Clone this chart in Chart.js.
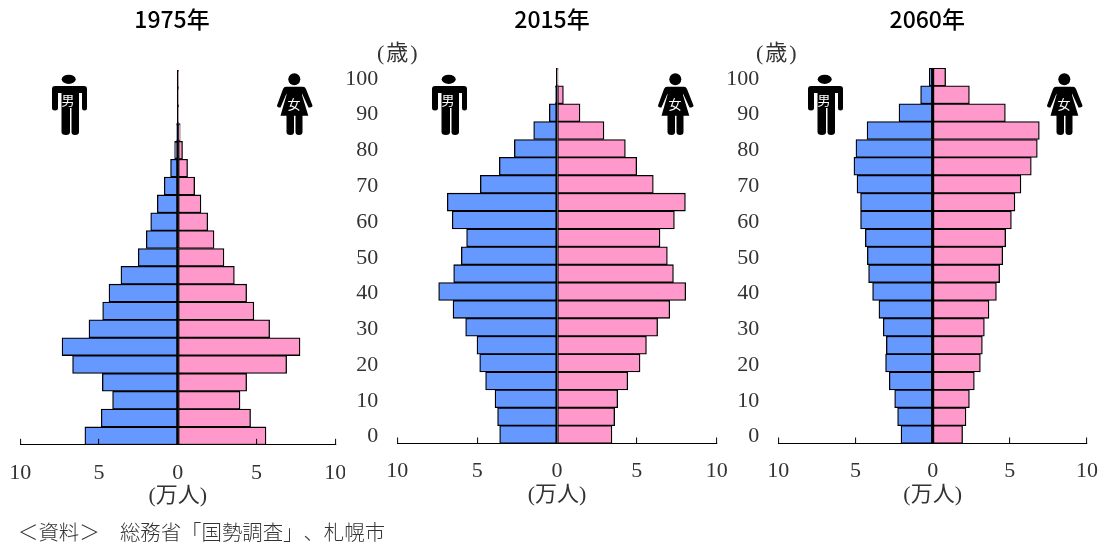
<!DOCTYPE html>
<html lang="ja">
<head>
<meta charset="utf-8">
<script src="https://cdn.jsdelivr.net/npm/chart.js@4"></script>
<style>
html,body{margin:0;padding:0;background:#fff;overflow:hidden;width:1106px;height:545px}
.c{position:absolute;top:0;height:545px}
.c canvas{display:block}
.t{position:absolute;color:#333;font-family:"Liberation Serif","Noto Sans CJK JP",serif;white-space:pre;text-spacing-trim:space-all}
svg.p{position:absolute;top:74px;width:36px;height:62px;overflow:visible}
svg.p text{font-family:"Noto Sans CJK JP",sans-serif;font-size:13px;fill:#fff;text-anchor:middle}
</style>
</head>
<body>
<div class="c" style="left:0;width:345px"><canvas id="a"></canvas></div>
<div class="c" style="left:340px;width:395px"><canvas id="b"></canvas></div>
<div class="c" style="left:720px;width:386px"><canvas id="d"></canvas></div>
<div class="t" style="left:377px;top:34px;font-size:22px;letter-spacing:2px">(歳)</div>
<div class="t" style="left:756px;top:34px;font-size:22px;letter-spacing:2px">(歳)</div>
<div class="t" style="left:18px;top:516px;font-size:20.4px;font-family:'Noto Sans CJK JP',sans-serif;font-weight:300">＜資料＞　総務省「国勢調査」、札幌市</div>
<svg width="0" height="0" style="position:absolute">
<defs>
<g id="man"><ellipse cx="16.7" cy="5.3" rx="7" ry="4.6"/><path d="M3 12H32Q35 12 35 15V34Q35 36.500 32.500 36.500Q30 36.500 30 34V19H27V58Q27 61 23 61Q19.500 61 19.500 58V34H18V58Q18 61 14 61Q9.500 61 9.500 58V19H6V34Q6 36.500 3 36.500Q0 36.500 0 34V15Q0 12 3 12Z"/></g>
<g id="woman"><circle cx="17.300" cy="5.300" r="6"/><path d="M9 12.800H26Q28 12.800 29 15L35.500 31.500Q35.500 33.500 31.500 33.500L25 19.500L25 21L31.300 41.800H25.500V58Q25.500 61 22 61Q18.500 61 18.500 58V41.800H17V58Q17 61 13.500 61Q9.500 61 9.500 58V41.800H3.500L9.500 21L9.500 19.500L3.500 33.500Q0 33.500 0 31.500L6 15Q7 12.800 9 12.800Z"/></g>
</defs>
</svg>
<svg class="p" style="left:52px"><use href="#man"/><text x="16" y="31">男</text></svg>
<svg class="p" style="left:277px"><use href="#woman"/><text x="17" y="35">女</text></svg>
<svg class="p" style="left:432px"><use href="#man"/><text x="16" y="31">男</text></svg>
<svg class="p" style="left:658px"><use href="#woman"/><text x="17" y="35">女</text></svg>
<svg class="p" style="left:808px"><use href="#man"/><text x="16" y="31">男</text></svg>
<svg class="p" style="left:1047px"><use href="#woman"/><text x="17" y="35">女</text></svg>
<script>
const ages = [100,95,90,85,80,75,70,65,60,55,50,45,40,35,30,25,20,15,10,5,0];
const male1975 = [0.01,0.02,0.04,0.08,0.2,0.46,0.86,1.3,1.72,2.0,2.51,3.61,4.37,4.77,5.64,7.35,6.68,4.79,4.14,4.86,5.9];
const female1975 = [0.01,0.02,0.05,0.15,0.3,0.62,1.07,1.47,1.9,2.3,2.93,3.59,4.37,4.83,5.83,7.76,6.91,4.37,3.95,4.62,5.6];
const male2015 = [0.03,0.1,0.48,1.46,2.67,3.61,4.8,6.87,6.56,5.66,5.99,6.47,7.41,6.51,5.72,5.01,4.84,4.47,3.88,3.72,3.59];
const female2015 = [0.07,0.4,1.44,2.94,4.28,4.99,6.03,8.04,7.35,6.45,6.91,7.29,8.06,7.06,6.3,5.6,5.2,4.43,3.8,3.61,3.44];
const male2060 = [0.22,0.78,2.18,4.25,4.97,5.1,4.9,4.67,4.67,4.36,4.23,4.15,3.89,3.48,3.2,3.0,3.05,2.81,2.46,2.27,2.05];
const female2060 = [0.84,2.38,4.71,6.91,6.78,6.39,5.72,5.33,5.1,4.73,4.54,4.34,4.13,3.65,3.35,3.22,3.09,2.7,2.38,2.16,1.94];
const xTicks = [-10,-5,0,5,10];
const titles = ["1975年","2015年","2060年"];
const unitLabel = "(万人)";
const MALE = "#6699FF", FEMALE = "#FF99CC", INK = "#000", TEXT = "#333";
const SERIF = '"Liberation Serif","Noto Sans CJK JP",serif';

function panel(id, w, title, male, female, L) {
  const el = document.getElementById(id);
  el.width = w; el.height = 545;
  return new Chart(el, {
    type: 'bar',
    data: {
      labels: ages,
      datasets: [
        {label:'男', data: male.map(v => -v), backgroundColor: MALE},
        {label:'女', data: female, backgroundColor: FEMALE}
      ]
    },
    options: {
      indexAxis: 'y', responsive: false, animation: false,
      devicePixelRatio: 1,
      layout: {padding: {left: L.left, right: L.right, top: 0, bottom: 545 - L.bottom - 65}},
      datasets: {bar: {barPercentage: 1, categoryPercentage: 1, borderWidth: 1.3, borderColor: INK, borderSkipped: false}},
      plugins: {
        legend: {display: false}, tooltip: {enabled: false},
        title: {display: true, text: title, color: '#000', font: {family: '"Noto Sans CJK JP",sans-serif', size: 23, weight: 500},
          padding: {top: 5, bottom: L.top - 5 - 27.6}}
      },
      scales: {
        x: {
          stacked: true, min: -10, max: 10, afterBuildTicks: s => { s.ticks = xTicks.map(v => ({value: v})); },
          afterFit: s => { s.height = 65; s.paddingLeft = 0; s.paddingRight = 0; },
          border: {display: true, color: INK, width: 1, z: 1},
          grid: {drawOnChartArea: true, color: c => (c.tick && c.tick.value === 0) ? INK : 'transparent', lineWidth: 1.2,
            drawTicks: true, tickLength: -6, tickColor: INK, tickWidth: 1, z: 1},
          ticks: {autoSkip: false, maxRotation: 0, padding: 21, color: TEXT, font: {family: SERIF, size: 22}, callback: v => String(Math.abs(v))},
          title: {display: true, text: unitLabel, color: TEXT, font: {family: SERIF, size: 22}, padding: {top: 0, bottom: 0}}
        },
        y: {
          stacked: true,
          afterFit: s => { s.width = L.yWidth; s.paddingTop = 0; s.paddingBottom = 0; s._computeLabelArea = () => undefined; },
          border: {display: false},
          grid: {display: false, drawTicks: false},
          ticks: {display: L.yLabels, autoSkip: false, padding: 19, labelOffset: 2, color: TEXT, font: {family: SERIF, size: 22},
            callback: function (v) { const a = this.getLabelForValue(v); return a % 10 === 0 ? String(a) : ''; }}
        }
      }
    }
  });
}
panel('a', 345, titles[0], male1975, female1975, {left: 8.7, right: 9.7, top: 70, bottom: 444.8, yLabels: false, yWidth: 11.6});
panel('b', 395, titles[1], male2015, female2015, {left: 47.3, right: 18.3, top: 68, bottom: 443.5, yLabels: true, yWidth: 10});
panel('d', 386, titles[2], male2060, female2060, {left: 47.5, right: 19, top: 68, bottom: 443.5, yLabels: true, yWidth: 10.8});
</script>
</body>
</html>
